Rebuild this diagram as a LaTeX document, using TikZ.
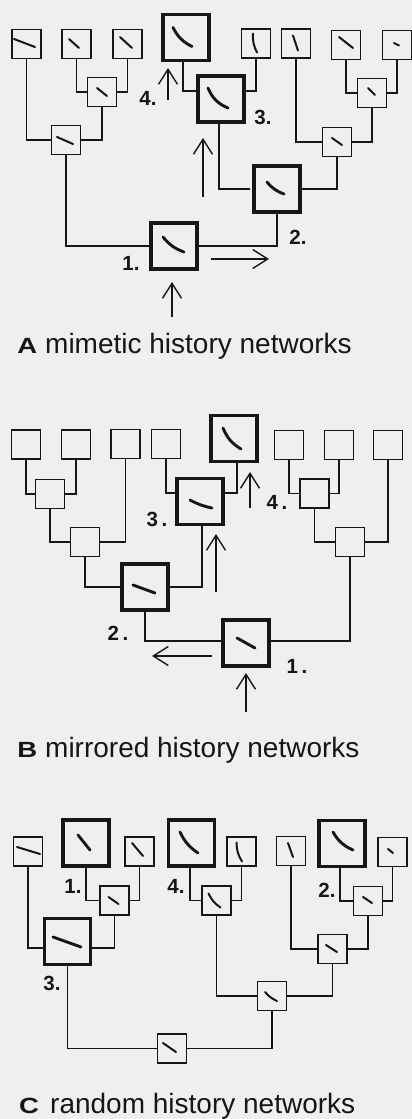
\documentclass[tikz,border=0pt]{standalone}
\usepackage{fontspec}
\setmainfont{Liberation Sans}
\usetikzlibrary{arrows.meta}
\definecolor{paper}{HTML}{EFEFED}
\definecolor{ink}{HTML}{161616}
\tikzset{
  sbox/.style={draw=ink, line width=1.4pt, minimum size=29pt, inner sep=0pt, fill=paper},
  bbox/.style={draw=ink, line width=3.8pt, minimum size=46pt, inner sep=0pt, fill=paper},
  link/.style={draw=ink, line width=1.1pt},
  glyph/.style={draw=ink, line width=2pt, line cap=round},
  bglyph/.style={draw=ink, line width=2.9pt, line cap=round},
  arr/.style={draw=ink, line width=1.4pt, -{Straight Barb[length=15pt,width=19pt,line width=1.4pt]}},
  lab/.style={font=\bfseries\fontsize{20.5}{20.5}\selectfont, text=ink, inner sep=0pt},
  captext/.style={font=\fontsize{28}{28}\selectfont, text=ink, anchor=base west, inner sep=0pt},
  capletter/.style={font=\bfseries\fontsize{22}{22}\selectfont, text=ink, anchor=base west, inner sep=0pt, xscale=1.25}
}
\newcommand\gly[4][]{\draw[glyph,#1] ([shift={#3}]#2.center) to ([shift={#4}]#2.center);}
\newcommand\bgly[4][]{\draw[bglyph,#1] ([shift={#3}]#2.center) to ([shift={#4}]#2.center);}
\begin{document}
\begin{tikzpicture}[x=1pt,y=-1pt]
\fill[paper] (0,0) rectangle (412,1119);
\useasboundingbox (0,0) rectangle (412,1119);

% ================= Panel A =================
\node[sbox] (a1) at (26.5,44) {};
\node[sbox] (a2) at (76.5,44) {};
\node[sbox] (a3) at (127.5,44) {};
\node[sbox] (a4) at (102,92) {};
\node[sbox] (a5) at (66,140) {};
\node[bbox] (A1) at (174,246) {};
\node[bbox] (A2) at (277,189) {};
\node[bbox] (A3) at (221,99) {};
\node[bbox] (A4) at (186,37.5) {};
\node[sbox] (a6) at (256,43.5) {};
\node[sbox] (a7) at (296,43.5) {};
\node[sbox] (a8) at (346,45) {};
\node[sbox] (a9) at (397,45) {};
\node[sbox] (a11) at (372,93) {};
\node[sbox] (a10) at (337,142) {};

\draw[link] (a2.south) |- (a4.west);
\draw[link] (a3.south) |- (a4.east);
\draw[link] (a1.south) |- (a5.west);
\draw[link] (a4.south) |- (a5.east);
\draw[link] (a5.south) |- (A1.west);
\draw[link] (A1.east) -| (A2.south);
\draw[link] ([xshift=-2pt]A2.west) -| ([xshift=-2pt]A3.south);
\draw[link] (A2.east) -| (a10.south);
\draw[link] ([xshift=-3pt]A4.south) |- ([yshift=8pt]A3.west);
\draw[link] (a6.south) |- ([yshift=8pt]A3.east);
\draw[link] (a7.south) |- (a10.west);
\draw[link] (a11.south) |- (a10.east);
\draw[link] (a8.south) |- (a11.west);
\draw[link] (a9.south) |- (a11.east);

\gly{a1}{(-12.5,-5)}{(8.5,3)}
\gly{a2}{(-7.5,-5)}{(2.5,4)}
\gly{a3}{(-7.5,-7)}{(4.5,4)}
\gly{a4}{(-5,-4)}{(5,4)}
\gly{a5}{(-9,-3)}{(7,4)}
\gly[bend right=15]{a6}{(-3,-10)}{(1,9)}
\gly{a7}{(-3,-8)}{(2,7)}
\gly{a8}{(-7,-8)}{(7,3)}
\gly{a9}{(-3,-2)}{(2,0.5)}
\gly{a11}{(-4,-5)}{(3,2)}
\gly{a10}{(-5,-4)}{(5,3)}
\bgly[bend right=15]{A1}{(-11,-9)}{(10,6)}
\bgly[bend right=15]{A2}{(-10,-7)}{(7,5)}
\bgly[bend right=22]{A3}{(-13,-11)}{(7,9)}
\bgly[bend right=18]{A4}{(-13,-10)}{(6,9)}

\node[lab] (lA1) at (131,263) {1.};
\node[lab] (lA2) at (298,237) {2.};
\node[lab] (lA3) at (263,117) {3.};
\node[lab] (lA4) at (148,98) {4.};

\coordinate (pA1s) at (172,317); \coordinate (pA1e) at (172,282);
\coordinate (pA2s) at (211,259); \coordinate (pA2e) at (269,259);
\coordinate (pA3s) at (203,197); \coordinate (pA3e) at (203,138);
\coordinate (pA4s) at (168,100); \coordinate (pA4e) at (168,68);
\draw[arr] (pA1s) -- (pA1e);
\draw[arr] (pA2s) -- (pA2e);
\draw[arr] (pA3s) -- (pA3e);
\draw[arr] (pA4s) -- (pA4e);

\node[capletter] (cA) at (17,353) {A};
\node[captext] (tA) at (45,353) {mimetic history networks};

% ================= Panel B =================
\node[sbox] (b1) at (26,444.5) {};
\node[sbox] (b2) at (76,444.5) {};
\node[sbox] (b3) at (125.5,444) {};
\node[sbox] (b4) at (166,444) {};
\node[sbox] (b5) at (50,494) {};
\node[sbox] (b6) at (85,542) {};
\node[bbox] (B3) at (200,501.5) {};
\node[bbox] (B4) at (234,438.5) {};
\node[bbox] (B2) at (145,587) {};
\node[bbox] (B1) at (246,643) {};
\node[sbox] (b7) at (289,445) {};
\node[sbox] (b8) at (339,445) {};
\node[sbox] (b9) at (388,445) {};
\node[sbox] (b11) at (314.5,493.5) {};
\node[sbox] (b10) at (350,542) {};

\draw[link] (b1.south) |- (b5.west);
\draw[link] (b2.south) |- (b5.east);
\draw[link] (b5.south) |- (b6.west);
\draw[link] (b3.south) |- (b6.east);
\draw[link] (b4.south) |- ([yshift=8.5pt]B3.west);
\draw[link] ([xshift=3pt]B4.south) |- ([yshift=8.5pt]B3.east);
\draw[link] (b6.south) |- (B2.west);
\draw[link] ([xshift=2pt]B3.south) |- (B2.east);
\draw[link] (B2.south) |- ([yshift=2pt]B1.west);
\draw[link] (b10.south) |- ([yshift=2pt]B1.east);
\draw[link] (b7.south) |- (b11.west);
\draw[link] (b8.south) |- (b11.east);
\draw[link] (b11.south) |- (b10.west);
\draw[link] (b9.south) |- (b10.east);

\bgly[bend right=18]{B4}{(-11,-10.5)}{(7,10.5)}
\bgly[bend right=8]{B3}{(-10,-1.5)}{(12,6.5)}
\bgly{B2}{(-12,-2)}{(10,6)}
\bgly{B1}{(-9,-5)}{(9,5)}

\node[lab] (lB1) at (297,666) {1\,.};
\node[lab] (lB2) at (118,633) {2\,.};
\node[lab] (lB3) at (157,519) {3\,.};
\node[lab] (lB4) at (277,502) {4\,.};

\coordinate (pB1s) at (246,712); \coordinate (pB1e) at (246,673);
\coordinate (pB2s) at (212,656); \coordinate (pB2e) at (152,656);
\coordinate (pB3s) at (216,592); \coordinate (pB3e) at (216,534);
\coordinate (pB4s) at (250,508); \coordinate (pB4e) at (250,472);
\draw[arr] (pB1s) -- (pB1e);
\draw[arr] (pB2s) -- (pB2e);
\draw[arr] (pB3s) -- (pB3e);
\draw[arr] (pB4s) -- (pB4e);

\node[capletter] (cB) at (17,757) {B};
\node[captext] (tB) at (45,757) {mirrored history networks};

% ================= Panel C =================
\node[sbox] (c1) at (28,851.5) {};
\node[bbox] (C1) at (86,843) {};
\node[sbox] (c2) at (139.5,851.5) {};
\node[sbox] (c3) at (114.5,900.5) {};
\node[bbox] (C4) at (191.5,843) {};
\node[sbox] (c4) at (241.5,851.5) {};
\node[sbox] (c5) at (216.5,900.5) {};
\node[sbox] (c6) at (291,851) {};
\node[bbox] (C2) at (342,843.5) {};
\node[sbox] (c7) at (392.5,852) {};
\node[sbox] (c8) at (368,901) {};
\node[bbox] (C3) at (67.5,941.5) {};
\node[sbox] (c11) at (332.5,949) {};
\node[sbox] (c9) at (272,996) {};
\node[sbox] (c10) at (172,1048.5) {};

\draw[link] (C1.south) |- (c3.west);
\draw[link] (c2.south) |- (c3.east);
\draw[link] (c1.south) |- ([yshift=-6.5pt]C3.west);
\draw[link] (c3.south) |- ([yshift=-6.5pt]C3.east);
\draw[link] ([xshift=-1.5pt]C4.south) |- (c5.west);
\draw[link] (c4.south) |- (c5.east);
\draw[link] ([xshift=-2pt]C2.south) |- (c8.west);
\draw[link] (c7.south) |- (c8.east);
\draw[link] (c6.south) |- (c11.west);
\draw[link] (c8.south) |- (c11.east);
\draw[link] (c5.south) |- (c9.west);
\draw[link] (c11.south) |- (c9.east);
\draw[link] (C3.south) |- (c10.west);
\draw[link] (c9.south) |- (c10.east);

\gly{c1}{(-11,-4.5)}{(12,2.5)}
\gly{c2}{(-7.5,-8.5)}{(3.5,4.5)}
\gly{c3}{(-6,-3.5)}{(4,3.5)}
\gly[bend right=15]{c4}{(-5,-9)}{(0.5,10)}
\gly[bend right=15]{c5}{(-8,-7)}{(4,7)}
\gly{c6}{(-3,-8)}{(2,6)}
\gly{c7}{(-4.5,-3)}{(0.5,1)}
\gly{c8}{(-5,-4)}{(4,2)}
\gly{c11}{(-6.5,-4)}{(4.5,3)}
\gly[bend right=12]{c9}{(-7,-4)}{(5,5)}
\gly{c10}{(-9,-5.5)}{(4,3.5)}
\bgly{C1}{(-8,-8)}{(4,7)}
\bgly[bend right=15]{C4}{(-11.5,-11)}{(6.5,10)}
\bgly[bend right=18]{C2}{(-9,-11.5)}{(11,6.5)}
\bgly{C3}{(-14.5,-4.5)}{(13.5,5.5)}

\node[lab] (lC1) at (73,886) {1.};
\node[lab] (lC2) at (327,890) {2.};
\node[lab] (lC3) at (52,983) {3.};
\node[lab] (lC4) at (176,886) {4.};

\node[capletter] (cC) at (19,1113) {C};
\node[captext] (tC) at (50,1113) {random history networks};
\end{tikzpicture}
\end{document}
